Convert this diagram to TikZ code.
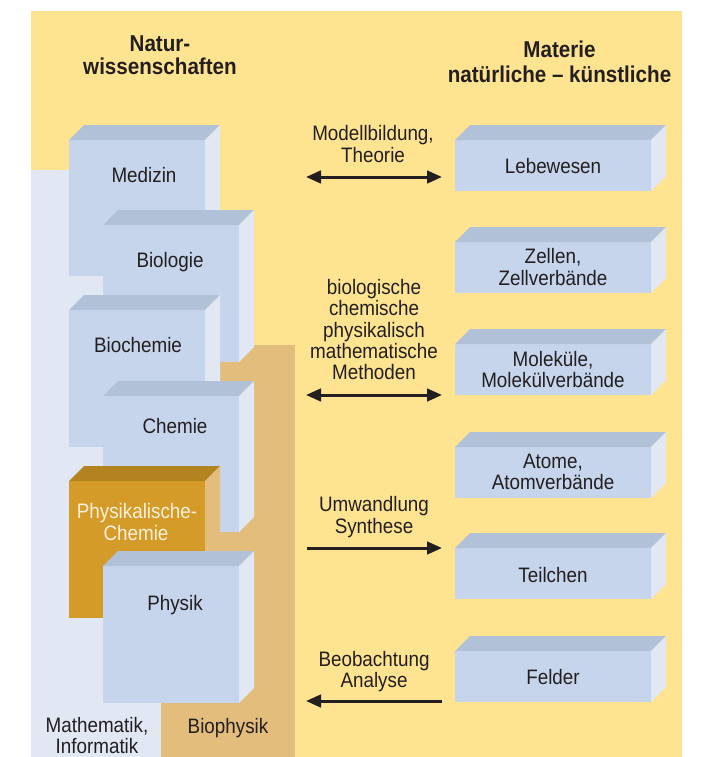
\documentclass[tikz,border=0pt]{standalone}
\usepackage{fontspec}
\setmainfont{Liberation Sans}[FakeStretch=0.9]
\usetikzlibrary{arrows.meta}
\definecolor{bgyellow}{HTML}{FEE391}
\definecolor{paleblue}{HTML}{E1E8F4}
\definecolor{frontblue}{HTML}{C6D4EC}
\definecolor{topblue}{HTML}{B1C1D8}
\definecolor{tanbg}{HTML}{E3BD7B}
\definecolor{ochre}{HTML}{D49B29}
\definecolor{ochretop}{HTML}{B38320}
\definecolor{ink}{HTML}{231F20}
\definecolor{cream}{HTML}{FAF0DC}
% #1 x, #2 y (front top-left), #3 w, #4 h, #5 front, #6 top, #7 side
\newcommand\mybox[7]{%
  \fill[#5] (#1,#2) rectangle ++(#3,#4);
  \fill[#6] (#1,#2) -- ++(15,-15) -- ++(#3,0) -- ++(-15,15) -- cycle;
  \fill[#7] (#1+#3,#2) -- ++(15,-15) -- ++(0,#4) -- ++(-15,15) -- cycle;
}
\begin{document}
\begin{tikzpicture}[x=1bp,y=-1bp,
  lbl/.style={font=\fontsize{21}{21.5}\selectfont, text=ink, inner sep=0pt, anchor=base},
  hdr/.style={font=\fontsize{23}{23.5}\selectfont\bfseries, text=ink, inner sep=0pt, anchor=base},
  conn/.style={line width=3bp, draw=ink},
  tipend/.tip={Triangle[length=15bp,width=12.5bp]}]
\useasboundingbox (0,0) rectangle (722,757);
\fill[white] (0,0) rectangle (722,757);
\fill[bgyellow] (31,11) rectangle (682,757);
\fill[paleblue] (31,170) rectangle (161,757);
\fill[tanbg] (161,345) rectangle (295,757);
% left stacked boxes
\mybox{69}{140}{136}{136}{frontblue}{topblue}{paleblue}
\mybox{103}{225}{136}{137}{frontblue}{topblue}{paleblue}
\mybox{69}{310}{136}{137}{frontblue}{topblue}{paleblue}
\mybox{103}{396}{136}{136}{frontblue}{topblue}{paleblue}
\mybox{69}{481}{136}{137}{ochre}{ochretop}{tanbg}
\mybox{103}{566}{136}{137}{frontblue}{topblue}{paleblue}
% right boxes
\mybox{455}{140}{196}{51}{frontblue}{topblue}{paleblue}
\mybox{455}{242}{196}{51}{frontblue}{topblue}{paleblue}
\mybox{455}{344}{196}{51}{frontblue}{topblue}{paleblue}
\mybox{455}{447}{196}{51}{frontblue}{topblue}{paleblue}
\mybox{455}{548}{196}{51}{frontblue}{topblue}{paleblue}
\mybox{455}{651}{196}{51}{frontblue}{topblue}{paleblue}
% headers
\node[hdr] (hl1) at (160,52) {Natur-};
\node[hdr] (hl2) at (160,75) {wissenschaften};
\node[hdr] (hr1) at (559.5,58) {Materie};
\node[hdr] (hr2) at (559.5,82) {natürliche – künstliche};
% left labels
\node[lbl] (med) at (144,182) {Medizin};
\node[lbl] (bio) at (170,267) {Biologie};
\node[lbl] (bch) at (138,352) {Biochemie};
\node[lbl] (che) at (175,433) {Chemie};
\node[lbl, text=cream] (pc1) at (137,518) {Physikalische-};
\node[lbl, text=cream] (pc2) at (136,540) {Chemie};
\node[lbl] (phy) at (175,610) {Physik};
\node[lbl] (mi1) at (97,732) {Mathematik,};
\node[lbl] (mi2) at (97,753.5) {Informatik};
\node[lbl] (bph) at (228,733) {Biophysik};
% right labels
\node[lbl] (leb) at (553,173) {Lebewesen};
\node[lbl] (ze1) at (553,263.5) {Zellen,};
\node[lbl] (ze2) at (553,285) {Zellverbände};
\node[lbl] (mo1) at (553,366) {Moleküle,};
\node[lbl] (mo2) at (553,387) {Molekülverbände};
\node[lbl] (at1) at (553,468) {Atome,};
\node[lbl] (at2) at (553,489) {Atomverbände};
\node[lbl] (tei) at (553,582) {Teilchen};
\node[lbl] (fel) at (553,684) {Felder};
% arrow labels
\node[lbl] (t1a) at (373,140) {Modellbildung,};
\node[lbl] (t1b) at (373,162) {Theorie};
\node[lbl] (t2a) at (374,294) {biologische};
\node[lbl] (t2b) at (374,315.5) {chemische};
\node[lbl] (t2c) at (374,337) {physikalisch};
\node[lbl] (t2d) at (374,358) {mathematische};
\node[lbl] (t2e) at (374,379.5) {Methoden};
\node[lbl] (t3a) at (374,511.5) {Umwandlung};
\node[lbl] (t3b) at (374,533) {Synthese};
\node[lbl] (t4a) at (374,666) {Beobachtung};
\node[lbl] (t4b) at (374,687) {Analyse};
% arrows
\coordinate (a1l) at (306,177);
\coordinate (a1r) at (442,177);
\coordinate (a2l) at (306,395);
\coordinate (a2r) at (442,395);
\coordinate (a3l) at (307,548);
\coordinate (a3r) at (442,548);
\coordinate (a4l) at (306,701);
\coordinate (a4r) at (442,701);
\draw[conn, tipend-tipend] (a1l) -- (a1r);
\draw[conn, tipend-tipend] (a2l) -- (a2r);
\draw[conn, -tipend] (a3l) -- (a3r);
\draw[conn, tipend-] (a4l) -- (a4r);
\end{tikzpicture}
\end{document}
